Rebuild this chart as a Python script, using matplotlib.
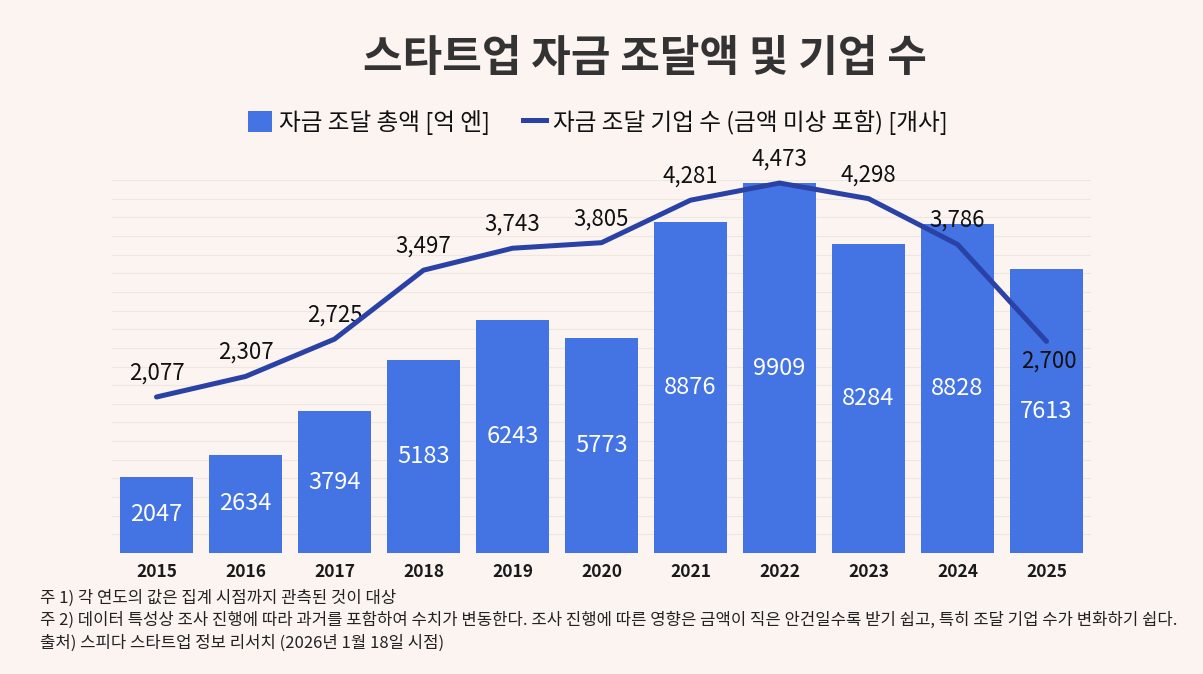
import matplotlib
matplotlib.use("Agg")
import matplotlib.pyplot as plt
from matplotlib.patches import Patch
from matplotlib.lines import Line2D
import numpy as np

plt.rcParams['font.family'] = ['Noto Sans CJK KR', 'DejaVu Sans']

years = ['2015', '2016', '2017', '2018', '2019', '2020', '2021', '2022', '2023', '2024', '2025']
funding = [2047, 2634, 3794, 5183, 6243, 5773, 8876, 9909, 8284, 8828, 7613]
companies = [2077, 2307, 2725, 3497, 3743, 3805, 4281, 4473, 4298, 3786, 2700]

title = '스타트업 자금 조달액 및 기업 수'
bar_label = '자금 조달 총액 [억 엔]'
line_label = '자금 조달 기업 수 (금액 미상 포함) [개사]'
notes = [
    '주 1) 각 연도의 값은 집계 시점까지 관측된 것이 대상',
    '주 2) 데이터 특성상 조사 진행에 따라 과거를 포함하여 수치가 변동한다. 조사 진행에 따른 영향은 금액이 직은 안건일수록 받기 쉽고, 특히 조달 기업 수가 변화하기 쉽다.',
    '출처) 스피다 스타트업 정보 리서치 (2026년 1월 18일 시점)',
]

BG = '#fcf4f1'
BAR = '#4473e3'
LINE = '#2a42a6'

fig = plt.figure(figsize=(12.03, 6.74), dpi=100, facecolor=BG)
ax = fig.add_axes([112/1203, 1-553/674, 979/1203, 373/674])
ax.set_facecolor('none')

x = np.arange(len(years))
ax.bar(x, funding, width=0.81, color=BAR, zorder=2)
ax.set_xlim(-0.5, len(years)-0.5)
ax.set_ylim(0, 10000)
ax.set_yticks(np.arange(500, 10001, 500))
ax.yaxis.grid(True, color='#efe6e2', lw=0.8, zorder=0)
ax.set_xticks(x)
ax.set_xticklabels(years, fontsize=12.5, color='#1a1a1a', fontweight='bold')
for s in ax.spines.values():
    s.set_visible(False)

for xi, v in zip(x, funding):
    ax.text(xi, v/2, f'{v}', ha='center', va='center', color='white',
            fontsize=17, zorder=3)

ax2 = ax.twinx()
ax2.set_ylim(330, 4507)
ax2.plot(x, companies, color=LINE, lw=3.6, solid_joinstyle='round',
         solid_capstyle='round', zorder=4)
ax2.axis('off')
ax.tick_params(axis='y', left=False, right=False, labelleft=False, labelright=False)
ax.tick_params(axis='x', bottom=False, pad=4)

for i, (xi, v) in enumerate(zip(x, companies)):
    if i == len(companies) - 1:
        ax2.annotate(f'{v:,}', (xi, v), xytext=(2, -6), textcoords='offset points',
                     ha='center', va='top', fontsize=16, color='#111111')
    else:
        ax2.annotate(f'{v:,}', (xi, v), xytext=(0, 9), textcoords='offset points',
                     ha='center', va='bottom', fontsize=16, color='#111111')

fig.text(645/1203, 1-58/674, title, ha='center', va='center', fontsize=31,
         fontweight='bold', color='#333333')

handles = [Patch(facecolor=BAR, edgecolor='none'),
           Line2D([0], [0], color=LINE, lw=3.6)]
leg = fig.legend(handles, [bar_label, line_label], loc='center',
                 bbox_to_anchor=(598/1203, 1-122/674), ncol=2, frameon=False,
                 fontsize=17, handlelength=1.0, handleheight=1.0,
                 handletextpad=0.3, columnspacing=1.4)
for t in leg.get_texts():
    t.set_color('#111111')

for i, n in enumerate(notes):
    fig.text(40/1203, 1-(598+22.5*i)/674, n, ha='left', va='center', fontsize=12,
             color='#222222')

fig.savefig('out.png', dpi=100, facecolor=BG)
